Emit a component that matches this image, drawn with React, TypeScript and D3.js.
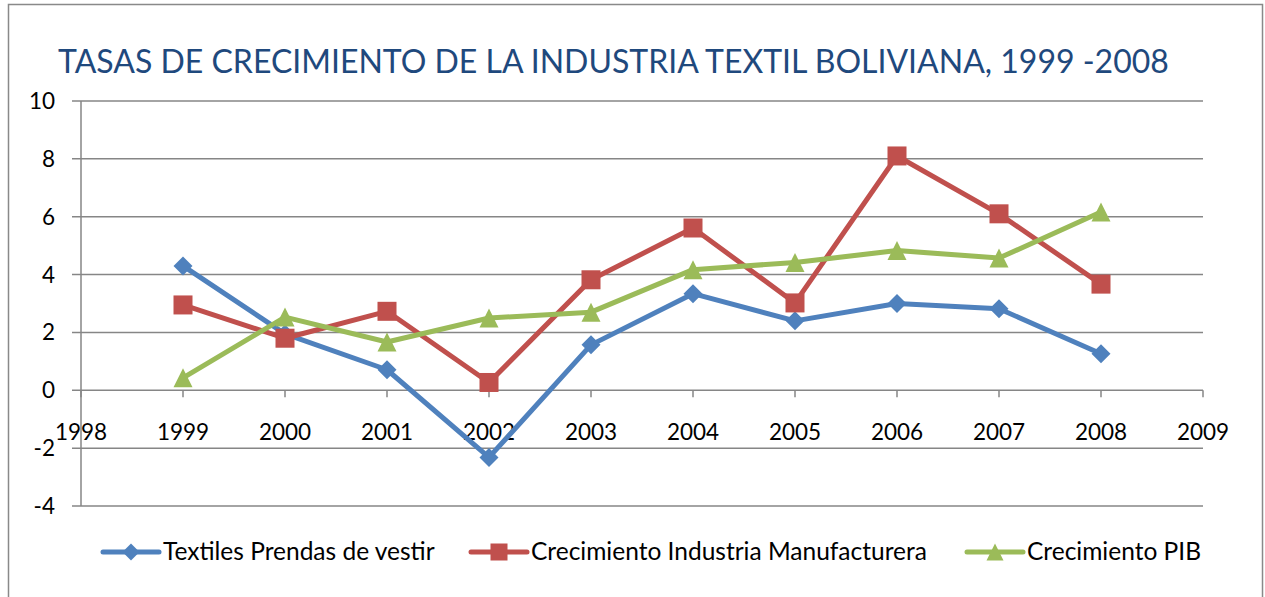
import React from "react";
import * as d3 from "d3";

const years = [1999, 2000, 2001, 2002, 2003, 2004, 2005, 2006, 2007, 2008];
const textiles = [4.3, 1.95, 0.71, -2.32, 1.57, 3.34, 2.4, 3.0, 2.82, 1.26];
const manufactura = [2.95, 1.8, 2.73, 0.27, 3.82, 5.61, 3.02, 8.1, 6.1, 3.67];
const pib = [0.43, 2.53, 1.67, 2.5, 2.7, 4.17, 4.42, 4.83, 4.57, 6.16];
const xTicks = [1998, 1999, 2000, 2001, 2002, 2003, 2004, 2005, 2006, 2007, 2008, 2009];
const yTicks = [-4, -2, 0, 2, 4, 6, 8, 10];

const series = [
  { name: "Textiles Prendas de vestir", values: textiles, color: "#4F81BD", marker: "diamond", lx: 103 },
  { name: "Crecimiento Industria Manufacturera", values: manufactura, color: "#C0504D", marker: "square", lx: 471 },
  { name: "Crecimiento PIB", values: pib, color: "#9BBB59", marker: "triangle", lx: 967 },
];

const W = 1265;
const H = 597;
const font = "Lato, 'Open Sans', sans-serif";

function Marker({ type, x, y, color, s }: { type: string; x: number; y: number; color: string; s: number }) {
  if (type === "diamond") {
    const p = d3.path();
    p.moveTo(x, y - s / 2);
    p.lineTo(x + s / 2, y);
    p.lineTo(x, y + s / 2);
    p.lineTo(x - s / 2, y);
    p.closePath();
    return <path d={p.toString()} fill={color} />;
  }
  if (type === "square") {
    return <rect x={x - s / 2} y={y - s / 2} width={s} height={s} fill={color} />;
  }
  const p = d3.path();
  p.moveTo(x, y - s / 2);
  p.lineTo(x + s / 2, y + s / 2);
  p.lineTo(x - s / 2, y + s / 2);
  p.closePath();
  return <path d={p.toString()} fill={color} />;
}

export default function App() {
  const x = d3.scaleLinear().domain([1998, 2009]).range([81, 1203]);
  const y = d3.scaleLinear().domain([-4, 10]).range([506, 101]);

  const line = d3
    .line<number>()
    .x((_, i) => x(years[i]))
    .y((d) => y(d));

  const gridColor = "#868686";
  const legendY = 552;

  return (
    <svg width={W} height={H} style={{ position: "absolute", left: 0, top: 0, background: "#fff" }}>
      <rect x={8.5} y={4.5} width={1254} height={H + 10} fill="#fff" stroke="#898989" strokeWidth={1.5} />
      <text x={58} y={73} fontFamily={font} fontSize={32} fill="#1F497D">
        TASAS DE CRECIMIENTO DE LA INDUSTRIA TEXTIL BOLIVIANA, 1999 -2008
      </text>

      {yTicks.map((t) => (
        <g key={t}>
          <line x1={72} x2={x(2009)} y1={y(t)} y2={y(t)} stroke={gridColor} strokeWidth={1.5} />
          <text x={55} y={y(t) + 8} textAnchor="end" fontFamily={font} fontSize={22.5} fill="#000">
            {t}
          </text>
        </g>
      ))}
      <line x1={x(1998)} x2={x(1998)} y1={y(10)} y2={y(-4)} stroke={gridColor} strokeWidth={1.5} />
      {xTicks.map((t) => (
        <g key={t}>
          <line x1={x(t)} x2={x(t)} y1={y(0)} y2={y(0) + 7} stroke={gridColor} strokeWidth={1.5} />
          <text x={x(t)} y={440} textAnchor="middle" fontFamily={font} fontSize={22.5} fill="#000">
            {t}
          </text>
        </g>
      ))}

      {series.map((s) => (
        <g key={s.name}>
          <path d={line(s.values) || ""} fill="none" stroke={s.color} strokeWidth={5} strokeLinejoin="round" />
          {s.values.map((v, i) => (
            <Marker key={i} type={s.marker} x={x(years[i])} y={y(v)} color={s.color} s={19} />
          ))}
        </g>
      ))}

      {series.map((s) => (
        <g key={s.name + "-leg"}>
          <line x1={s.lx} x2={s.lx + 56} y1={legendY} y2={legendY} stroke={s.color} strokeWidth={5} strokeLinecap="round" />
          <Marker type={s.marker} x={s.lx + 28} y={legendY} color={s.color} s={17} />
          <text x={s.lx + 60} y={legendY + 8} fontFamily={font} fontSize={24.5} fill="#000">
            {s.name}
          </text>
        </g>
      ))}
    </svg>
  );
}
